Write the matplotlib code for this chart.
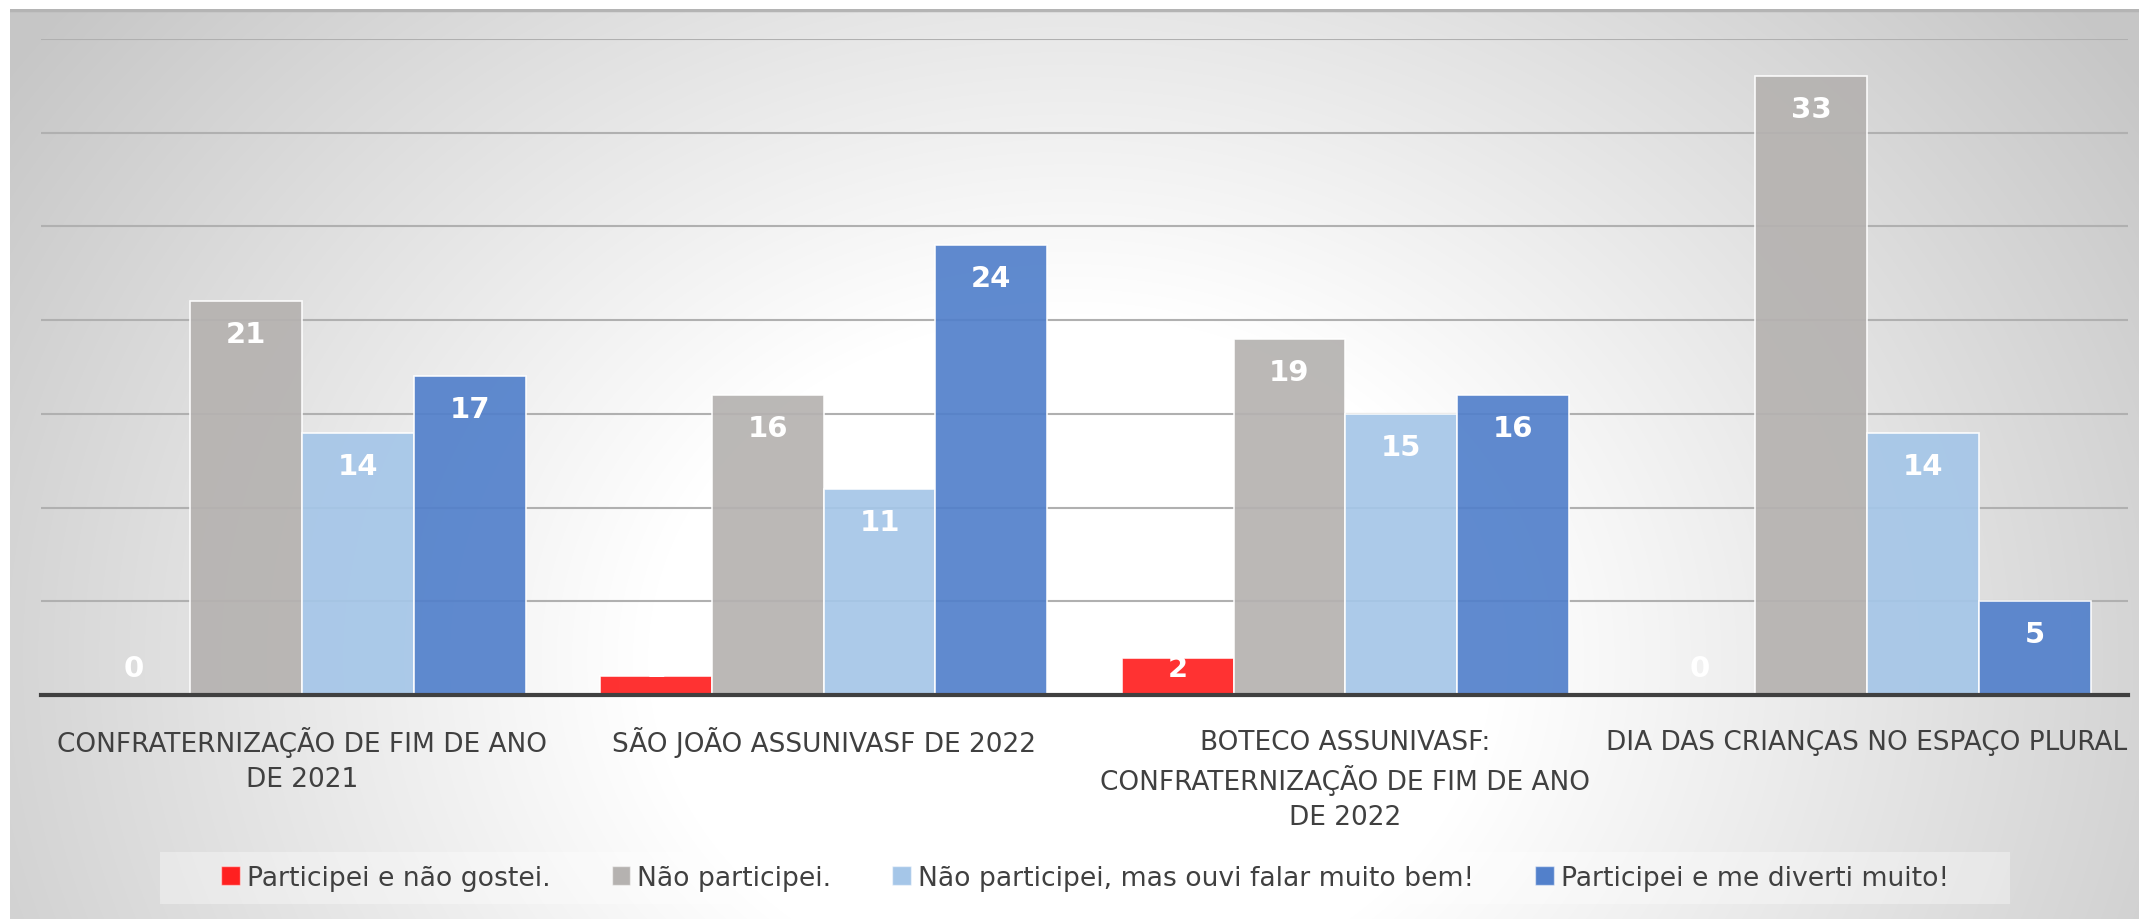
import numpy as np
import matplotlib
matplotlib.use('Agg')
import matplotlib.pyplot as plt
from matplotlib.patches import Patch, Rectangle

# data
categories = ['CONFRATERNIZAÇÃO DE FIM DE ANO\nDE 2021',
              'SÃO JOÃO ASSUNIVASF DE 2022',
              'BOTECO ASSUNIVASF:\nCONFRATERNIZAÇÃO DE FIM DE ANO\nDE 2022',
              'DIA DAS CRIANÇAS NO ESPAÇO PLURAL']
series_names = ['Participei e não gostei.',
                'Não participei.',
                'Não participei, mas ouvi falar muito bem!',
                'Participei e me diverti muito!']
nao_gostei = [0, 1, 2, 0]
nao_participei = [21, 16, 19, 33]
ouvi_falar = [14, 11, 15, 14]
diverti = [17, 24, 16, 5]
series = [nao_gostei, nao_participei, ouvi_falar, diverti]
colors = ['#ff2020', '#b5b2b0', '#a5c6e8', '#5280cb']

plt.rcParams['font.family'] = ['DejaVu Sans']

W, H = 2139, 920
fig = plt.figure(figsize=(W / 100, H / 100), dpi=100)
fig.patch.set_facecolor('white')

# radial grey background like the office chart style
bg = fig.add_axes([10 / W, 0, 1 - 10 / W, 1 - 10 / H], zorder=-5)
yy, xx = np.mgrid[10:H, 10:W]
d = np.sqrt(((xx - 1070.0) * 0.9) ** 2 + ((yy - 660.0) * 1.1) ** 2)
t = np.clip((d - 380) / 770, 0, 1)
shade = 1 - 0.22 * t
bg.imshow(np.dstack([shade, shade, shade]), aspect='auto', interpolation='bilinear')
bg.axhline(0, color='#b4b4b4', lw=2.5)
bg.set_axis_off()

left, right, base, top = 41, 2128, 696, 40
ax = fig.add_axes([left / W, 1 - base / H, (right - left) / W, (base - top) / H])
ax.set_facecolor('none')

x = np.arange(len(categories))
w = 0.2144
for i in range(4):
    pos = x + (i - 1.5) * w
    ax.bar(pos, series[i], w, color=colors[i], alpha=0.92, edgecolor=(1, 1, 1, 0.45),
           linewidth=1.2, zorder=3, label=series_names[i])
    for p, v in zip(pos, series[i]):
        ax.text(p, max(v - 1.76, 1.46), str(v), ha='center', va='center', color='white',
                fontsize=21, fontweight='bold', zorder=5)

ax.set_xlim(-0.5, 3.5)
ax.set_ylim(0, 35)
ax.set_yticks(np.arange(0, 36, 5))
ax.yaxis.grid(True, color='#b0b0b0', lw=1.5, zorder=0)
ax.set_axisbelow(True)
ax.tick_params(axis='y', left=False, labelleft=False)
ax.set_xticks(x)
ax.tick_params(axis='x', bottom=False, labelbottom=False)

# category labels, one line at a time so the spacing stays even
for xi, cat in zip(x, categories):
    for k, line in enumerate(cat.split('\n')):
        ax.annotate(line, xy=(xi, 0), xycoords='data', xytext=(0, -33.5 - 27 * k),
                    textcoords='offset points', ha='center', va='center',
                    fontsize=19, color='#404040', annotation_clip=False)

for s in ['top', 'right', 'left']:
    ax.spines[s].set_visible(False)
ax.spines['bottom'].set_color('#404040')
ax.spines['bottom'].set_linewidth(3)
ax.spines['bottom'].set_zorder(6)

# legend box
fig.patches.append(Rectangle((160 / W, 1 - 905 / H), 1850 / W, 52 / H, transform=fig.transFigure,
                             facecolor='white', alpha=0.35, edgecolor='none', zorder=-1))
handles = [Patch(facecolor=c, edgecolor=(1, 1, 1, 0.5)) for c in colors]
fig.legend(handles, series_names, loc='center', bbox_to_anchor=(1085 / W, 1 - 879 / H),
           ncol=4, frameon=False, fontsize=19.2, handlelength=0.7, handleheight=0.7,
           handletextpad=0.25, columnspacing=2.3, labelcolor='#404040')

fig.savefig('out.png', dpi=100)
